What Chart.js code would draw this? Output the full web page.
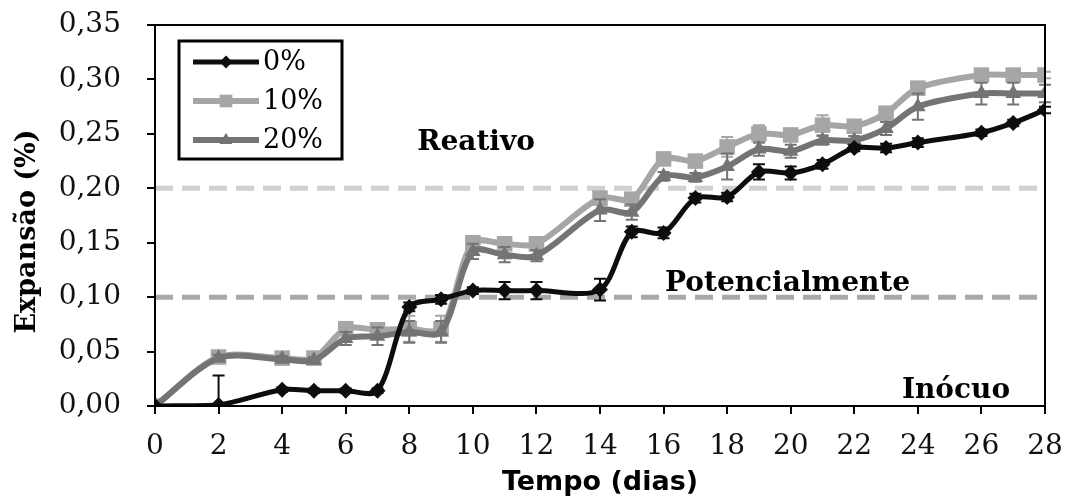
<!DOCTYPE html>
<html lang="pt">

<head>
    <meta charset="UTF-8" />
    <title>Expansão x Tempo</title>
    <script src="https://cdn.jsdelivr.net/npm/chart.js"></script>
    <style>
        body { margin: 0; background: #fff; }
        canvas { display: block; }
    </style>
</head>

<body>
    <canvas id="expChart" width="1070" height="496"></canvas>

    <script>
        // idade em dias
        const days = [0, 2, 4, 5, 6, 7, 8, 9, 10, 11, 12, 14, 15, 16, 17, 18, 19, 20, 21, 22, 23, 24, 26, 27, 28];

        // expansao media (%)
        const exp0 = [0, 0.001, 0.015, 0.014, 0.014, 0.014, 0.091, 0.098, 0.106, 0.106, 0.106, 0.107, 0.160, 0.159, 0.191, 0.192, 0.215, 0.214, 0.222, 0.237, 0.237, 0.242, 0.251, 0.260, 0.272];
        const exp10 = [0, 0.045, 0.044, 0.044, 0.071, 0.070, 0.071, 0.071, 0.150, 0.149, 0.149, 0.191, 0.190, 0.227, 0.225, 0.238, 0.250, 0.249, 0.258, 0.257, 0.269, 0.292, 0.304, 0.304, 0.304];
        const exp20 = [0, 0.044, 0.043, 0.042, 0.062, 0.064, 0.068, 0.068, 0.142, 0.139, 0.138, 0.180, 0.178, 0.211, 0.210, 0.220, 0.236, 0.234, 0.244, 0.244, 0.255, 0.275, 0.287, 0.287, 0.287];

        // desvio (barras de erro)
        const err0 = [0, 0.027, 0.002, 0.002, 0.002, 0.002, 0.004, 0.004, 0.003, 0.008, 0.008, 0.010, 0.005, 0.005, 0.004, 0.004, 0.007, 0.006, 0.004, 0.003, 0.004, 0.004, 0.003, 0.003, 0.003];
        const err10 = [0, 0.003, 0.003, 0.003, 0.005, 0.005, 0.012, 0.012, 0.005, 0.005, 0.005, 0.005, 0.005, 0.004, 0.004, 0.009, 0.008, 0.005, 0.009, 0.004, 0.004, 0.004, 0.003, 0.003, 0.003];
        const err20 = [0, 0.003, 0.003, 0.003, 0.006, 0.008, 0.010, 0.010, 0.007, 0.007, 0.005, 0.010, 0.007, 0.004, 0.004, 0.012, 0.006, 0.006, 0.004, 0.004, 0.006, 0.012, 0.010, 0.010, 0.008];

        const seriesNames = ["0%", "10%", "20%"];

        // limites da norma
        const limitValues = [0.10, 0.20];

        // rotulos das zonas (posicao em dias / expansao)
        const zoneNames = ["Reativo", "Potencialmente", "Inócuo"];
        const zoneX = [10.1, 19.9, 25.2];
        const zoneY = [0.242, 0.112, 0.014];

        const pts = (vals) => days.map((d, i) => ({ x: d, y: vals[i] }));

        function series(label, vals, errs, color, shape, radius, width, order) {
            return {
                label: label,
                data: pts(vals),
                errors: errs,
                borderColor: color,
                backgroundColor: color,
                borderWidth: width,
                pointStyle: shape,
                pointRadius: radius,
                pointHoverRadius: radius,
                pointBorderWidth: 0,
                tension: 0.3,
                order: order,
                inLegend: true
            };
        }

        function limitLine(v, color) {
            return {
                label: "lim " + v,
                data: [{ x: 0, y: v }, { x: 28, y: v }],
                borderColor: color,
                borderWidth: 5,
                borderDash: [18, 9],
                pointRadius: 0,
                tension: 0,
                order: 10
            };
        }

        // marcador simples (legenda)
        function marker(ctx, shape, x, y, r, color) {
            ctx.fillStyle = color;
            ctx.beginPath();
            if (shape === "rectRot") {
                ctx.moveTo(x, y - r); ctx.lineTo(x + r, y); ctx.lineTo(x, y + r); ctx.lineTo(x - r, y);
            } else if (shape === "rect") {
                ctx.rect(x - r * 0.72, y - r * 0.72, r * 1.44, r * 1.44);
            } else {
                ctx.moveTo(x, y - r); ctx.lineTo(x + r * 0.9, y + r * 0.55); ctx.lineTo(x - r * 0.9, y + r * 0.55);
            }
            ctx.closePath();
            ctx.fill();
        }

        const errorBars = {
            id: "errorBars",
            afterDatasetDraw(chart, args) {
                const ds = chart.data.datasets[args.index];
                if (!ds.errors) return;
                const { ctx, chartArea, scales } = chart;
                ctx.save();
                ctx.beginPath();
                ctx.rect(chartArea.left - 10, chartArea.top, chartArea.right - chartArea.left + 20, chartArea.bottom - chartArea.top);
                ctx.clip();
                ctx.strokeStyle = ds.borderColor;
                ctx.lineWidth = 2;
                ds.data.forEach((p, i) => {
                    const e = ds.errors[i];
                    if (!e) return;
                    const x = scales.x.getPixelForValue(p.x);
                    const y1 = scales.y.getPixelForValue(p.y + e);
                    const y2 = scales.y.getPixelForValue(p.y - e);
                    ctx.beginPath();
                    ctx.moveTo(x, y1); ctx.lineTo(x, y2);
                    ctx.moveTo(x - 6, y1); ctx.lineTo(x + 6, y1);
                    ctx.moveTo(x - 6, y2); ctx.lineTo(x + 6, y2);
                    ctx.stroke();
                });
                ctx.restore();
            }
        };

        const extras = {
            id: "extras",
            afterDraw(chart) {
                const { ctx, chartArea, scales } = chart;
                ctx.save();

                // moldura da area do grafico
                ctx.strokeStyle = "#000";
                ctx.lineWidth = 2;
                ctx.strokeRect(chartArea.left, chartArea.top, chartArea.right - chartArea.left, chartArea.bottom - chartArea.top);

                // titulo do eixo y
                ctx.fillStyle = "#000";
                ctx.textAlign = "center";
                ctx.textBaseline = "middle";
                ctx.font = "bold 27px 'DejaVu Serif'";
                ctx.save();
                ctx.translate(28, (chartArea.top + chartArea.bottom) / 2 + 16);
                ctx.rotate(-Math.PI / 2);
                ctx.fillText("Expansão (%)", 0, 0);
                ctx.restore();

                // rotulos das zonas
                ctx.font = "bold 28px 'DejaVu Serif'";
                zoneNames.forEach((t, i) => {
                    ctx.fillText(t, scales.x.getPixelForValue(zoneX[i]), scales.y.getPixelForValue(zoneY[i]));
                });

                // legenda
                const lx = chartArea.left + 24, ly = chartArea.top + 16;
                ctx.lineWidth = 3;
                ctx.strokeRect(lx, ly, 163, 118);
                ctx.font = "27px 'DejaVu Serif'";
                ctx.textAlign = "left";
                const items = chart.data.datasets.filter(d => d.inLegend);
                items.forEach((d, i) => {
                    const y = ly + 21 + i * 39;
                    ctx.strokeStyle = d.borderColor;
                    ctx.lineWidth = d.borderWidth;
                    ctx.beginPath();
                    ctx.moveTo(lx + 14, y); ctx.lineTo(lx + 80, y);
                    ctx.stroke();
                    marker(ctx, d.pointStyle, lx + 47, y, d.pointRadius * 0.8, d.borderColor);
                    ctx.fillStyle = "#000";
                    ctx.fillText(d.label, lx + 84, y + 1);
                });
                ctx.restore();
            }
        };

        new Chart(document.getElementById("expChart"), {
            type: "line",
            data: {
                datasets: [
                    series(seriesNames[0], exp0, err0, "#0d0d0d", "rectRot", 8, 5, 1),
                    series(seriesNames[1], exp10, err10, "#a6a6a6", "rect", 11, 6, 3),
                    series(seriesNames[2], exp20, err20, "#747474", "triangle", 9, 6, 2),
                    limitLine(limitValues[0], "#a9a9a9"),
                    limitLine(limitValues[1], "#d0d0d0")
                ]
            },
            options: {
                responsive: false,
                animation: false,
                devicePixelRatio: 1,
                layout: { padding: { top: 25, right: 25, left: 0, bottom: 0 } },
                plugins: {
                    legend: { display: false },
                    tooltip: { enabled: false }
                },
                scales: {
                    x: {
                        type: "linear",
                        min: 0,
                        max: 28,
                        afterFit: (s) => { s.height = 90; s.paddingLeft = 0; s.paddingRight = 0; },
                        ticks: {
                            stepSize: 2,
                            color: "#111",
                            padding: 16,
                            font: { family: "'DejaVu Serif'", size: 28 }
                        },
                        grid: { drawOnChartArea: false, drawTicks: true, tickLength: 8, color: "#000", lineWidth: 2 },
                        border: { display: true, color: "#000", width: 2 },
                        title: {
                            display: true,
                            text: "Tempo (dias)",
                            color: "#000",
                            padding: { top: 0, bottom: -3 },
                            font: { family: "'DejaVu Sans'", size: 27, weight: "bold" }
                        }
                    },
                    y: {
                        min: 0,
                        max: 0.35,
                        afterFit: (s) => { s.width = 155; s.paddingTop = 0; s.paddingBottom = 0; },
                        ticks: {
                            stepSize: 0.05,
                            color: "#111",
                            padding: 26,
                            font: { family: "'DejaVu Serif'", size: 28 },
                            callback: (v) => v.toFixed(2).replace(".", ",")
                        },
                        grid: { drawOnChartArea: false, drawTicks: true, tickLength: 8, color: "#000", lineWidth: 2 },
                        border: { display: true, color: "#000", width: 2 }
                    }
                }
            },
            plugins: [errorBars, extras]
        });
    </script>
</body>

</html>
